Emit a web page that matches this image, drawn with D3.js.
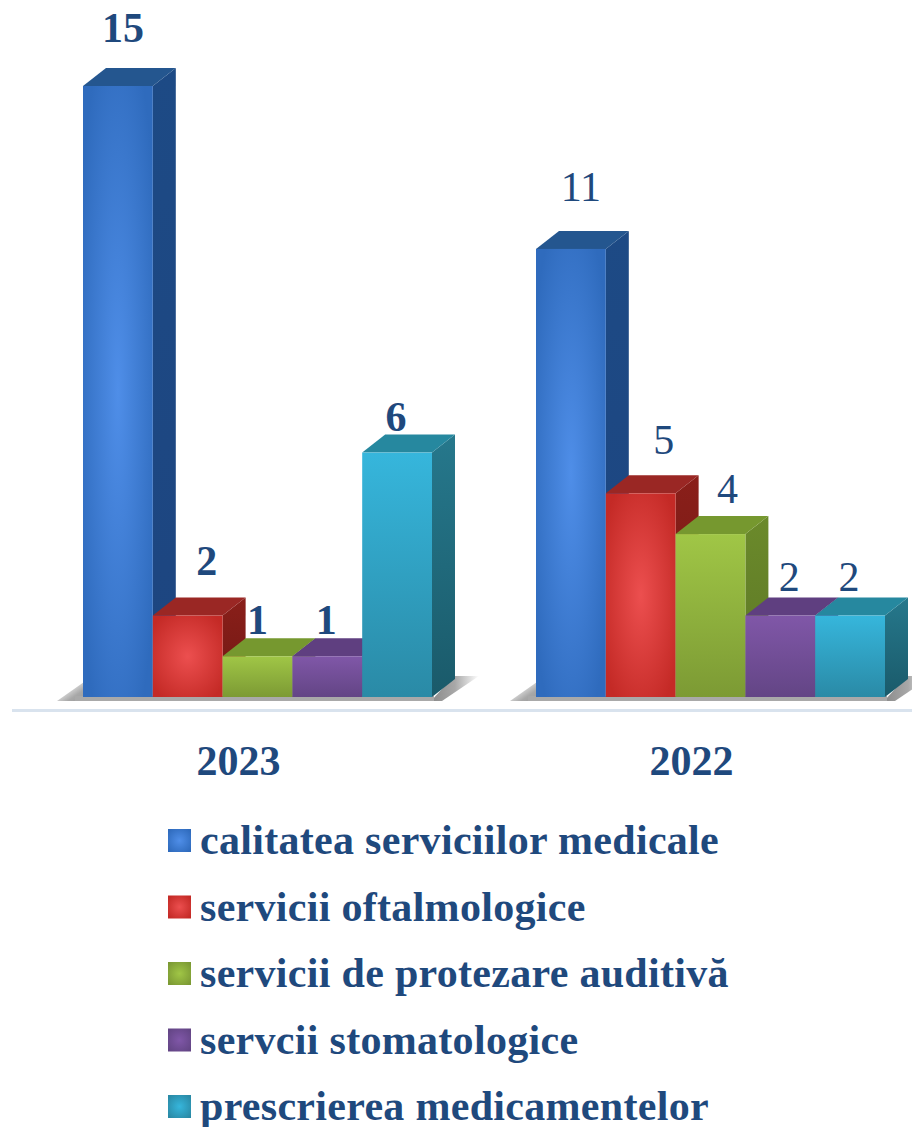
<!DOCTYPE html>
<html><head><meta charset="utf-8">
<script src="https://cdn.jsdelivr.net/npm/d3@7/dist/d3.min.js"></script>
<style>html,body{margin:0;padding:0;background:#fff}svg{display:block}text{font-family:"Liberation Serif",serif;fill:#1f497d}</style>
</head><body><svg id="c" width="912" height="1127"></svg>
<script>
const years = ["2023", "2022"];
const series = ["calitatea serviciilor medicale", "servicii oftalmologice", "servicii de protezare auditivă", "servcii stomatologice", "prescrierea medicamentelor"];
const values2023 = [15, 2, 1, 1, 6];
const values2022 = [11, 5, 4, 2, 2];
const valuesByYear = [values2023, values2022];
const labelWeights = ["bold", "normal"];
// manual data-label placement relative to each bar (px): sideways shift, height above the bar top
const labelShiftX = [[5, 19, 0, -1, -1], [10, 23, 17, 9, -1]];
const labelLift = [[44, 41, 22, 22, 22], [48, 39, 31, 25, 25]];
const frontLight = ["#4f8ee8", "#ec4f4f", "#a0c646", "#8057a8", "#36b6dc"];
const frontDark = ["#2f6bbd", "#c42a26", "#7c9a34", "#634585", "#2a8aa6"];
const topColors = ["#24568f", "#9a2724", "#76982f", "#5f3f80", "#26889f"];
const sideTop = ["#1d4a85", "#8a1f1a", "#6b8a2b", "#553a75", "#26788c"];
const sideBottom = ["#1d4580", "#701813", "#5c7625", "#48305f", "#1a5a6a"];
const gradientKinds = ["r", "r", "v", "v", "v"];

const svg = d3.select("#c");
const defs = svg.append("defs");
const y = d3.scaleLinear().domain([0, 15]).range([697, 86]);
const x0 = d3.scaleBand().domain(years).range([83, 885]).paddingInner(0.2296);
const x1 = d3.scaleBand().domain(series).range([0, x0.bandwidth()]);
const dx = 23, dy = -18;

defs.append("filter").attr("id", "blur").attr("x", "-10%").attr("width", "120%").attr("y", "-20%").attr("height", "140%")
  .append("feGaussianBlur").attr("stdDeviation", 0.7);

series.forEach((s, i) => {
  const id = "f" + i;
  let g;
  if (gradientKinds[i] === "r") {
    g = defs.append("radialGradient").attr("id", id).attr("cx", .5).attr("cy", .5).attr("r", .62);
    g.append("stop").attr("offset", 0).attr("stop-color", frontLight[i]);
    g.append("stop").attr("offset", 1).attr("stop-color", frontDark[i]);
  } else {
    g = defs.append("linearGradient").attr("id", id).attr("x1", 0).attr("x2", 0).attr("y1", 0).attr("y2", 1);
    g.append("stop").attr("offset", 0).attr("stop-color", frontLight[i]);
    g.append("stop").attr("offset", 1).attr("stop-color", frontDark[i]);
  }
  const sg = defs.append("linearGradient").attr("id", "s" + i).attr("x1", 0).attr("x2", 0).attr("y1", 0).attr("y2", 1);
  sg.append("stop").attr("offset", 0).attr("stop-color", sideTop[i]);
  sg.append("stop").attr("offset", 1).attr("stop-color", sideBottom[i]);
  const lg = defs.append("radialGradient").attr("id", "l" + i).attr("cx", .5).attr("cy", .5).attr("r", .62);
  lg.append("stop").attr("offset", 0).attr("stop-color", frontLight[i]);
  lg.append("stop").attr("offset", 1).attr("stop-color", frontDark[i]);
});

const shR = defs.append("linearGradient").attr("id", "shR").attr("x1", 0).attr("x2", 1).attr("y1", 0).attr("y2", 0);
shR.append("stop").attr("offset", 0).attr("stop-color", "#8a8a8a");
shR.append("stop").attr("offset", .5).attr("stop-color", "#a8a8a8");
shR.append("stop").attr("offset", 1).attr("stop-color", "#fff");
const shL = defs.append("linearGradient").attr("id", "shL").attr("x1", 0).attr("x2", 1).attr("y1", 0).attr("y2", 1);
shL.append("stop").attr("offset", .2).attr("stop-color", "#fff");
shL.append("stop").attr("offset", .7).attr("stop-color", "#a8a8a8");
shL.append("stop").attr("offset", 1).attr("stop-color", "#9a9a9a");

// floor line
svg.append("line").attr("x1", 12).attr("x2", 912).attr("y1", y(0) + 13.5).attr("y2", y(0) + 13.5)
  .attr("stroke", "#d9e3ee").attr("stroke-width", 3);

years.forEach((yr, k) => {
  const gx = x0(yr), w = x0.bandwidth(), b = y(0);
  const shadow = svg.append("g");
  shadow.append("path").attr("d", `M${gx - 26},${b + 4} L${gx + 1},${b - 15} L${gx + 1},${b + 4} Z`)
    .attr("fill", "url(#shL)").attr("filter", "url(#blur)");
  shadow.append("path").attr("d", `M${gx + w - 1},${b + 4} L${gx + w + dx - 1},${b + dy - 3} L${gx + w + dx + 24},${b + dy - 3} L${gx + w + 10},${b + 4} Z`)
    .attr("fill", "url(#shR)").attr("filter", "url(#blur)");
  shadow.append("rect").attr("x", gx - 8).attr("y", b - 1).attr("width", w + 10).attr("height", 5).attr("fill", "#a9a9a9");

  const rows = series.map((s, i) => ({s, i, v: valuesByYear[k][i]}));
  const bars = svg.append("g").selectAll("g").data(rows).join("g");
  bars.each(function (d) {
    const g = d3.select(this);
    const l = gx + x1(d.s), bw = x1.bandwidth(), r = l + bw, t = y(d.v);
    g.append("path").attr("d", `M${r},${t} L${r + dx},${t + dy} L${r + dx},${b + dy} L${r},${b} Z`).attr("fill", `url(#s${d.i})`);
    g.append("path").attr("d", `M${l},${t} L${l + dx},${t + dy} L${r + dx},${t + dy} L${r},${t} Z`).attr("fill", topColors[d.i]);
    g.append("rect").attr("x", l).attr("y", t).attr("width", bw).attr("height", b - t).attr("fill", `url(#f${d.i})`);
  });
  svg.append("g").selectAll("text").data(rows).join("text")
    .attr("x", d => gx + x1(d.s) + x1.bandwidth() / 2 + labelShiftX[k][d.i])
    .attr("y", d => y(d.v) - labelLift[k][d.i])
    .attr("text-anchor", "middle").attr("font-size", 42).attr("font-weight", labelWeights[k])
    .text(d => d.v);
  svg.append("text").attr("x", gx + w / 2 - 19).attr("y", 775).attr("text-anchor", "middle")
    .attr("font-size", 42).attr("font-weight", "bold").text(yr);
});

const leg = d3.scalePoint().domain(series).range([841, 1107]);
series.forEach((s, i) => {
  svg.append("rect").attr("x", 168).attr("y", leg(s) - 12).attr("width", 23).attr("height", 23).attr("fill", `url(#l${i})`);
  svg.append("text").attr("x", 200).attr("y", leg(s) + 13).attr("font-size", 42).attr("font-weight", "bold")
    .attr("letter-spacing", 0.3).text(s);
});
</script></body></html>
